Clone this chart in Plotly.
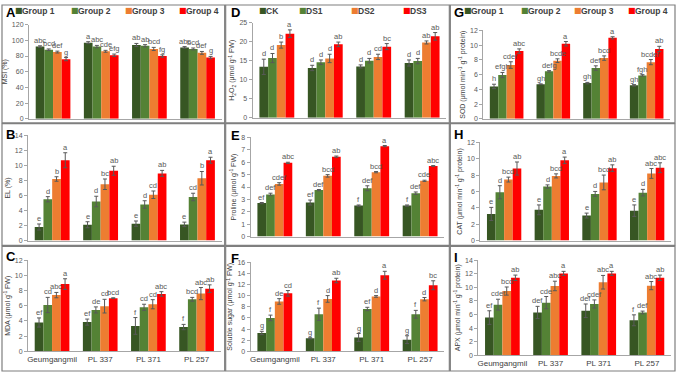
import plotly.graph_objects as go

W, H = 676, 375

cultivars = ["Geumgangmil", "PL 337", "PL 371", "PL 257"]
group_names = ["Group 1", "Group 2", "Group 3", "Group 4"]
ds_names = ["CK", "DS1", "DS2", "DS3"]
colors = ["#375623", "#548235", "#ED7D31", "#FF0000"]

# Each list: one row per series (Group 1..4), one value per cultivar
msi_mean = [[92, 97, 94, 91], [88, 92, 93, 89], [85, 86, 89, 84], [76, 81, 80, 78]]
msi_err = [[1.0, 1.2, 2.0, 1.0], [1.0, 1.5, 1.5, 1.2], [1.2, 1.2, 2.0, 1.8], [2.0, 1.5, 1.5, 1.5]]
msi_let = [["abc", "a", "ab", "abc"], ["bcd", "abc", "ab", "bcd"], ["def", "cde", "bcd", "def"], ["g", "efg", "fg", "g"]]

el_mean = [[1.8, 2.1, 2.25, 2.15], [5.5, 5.2, 4.8, 5.8], [8.2, 7.5, 6.1, 8.3], [10.7, 9.3, 8.95, 10.7]]
el_err = [[0.4, 0.4, 0.35, 0.3], [0.35, 0.7, 0.5, 0.5], [0.3, 0.7, 0.5, 0.9], [1.0, 0.6, 0.4, 0.4]]
el_let = [["e", "e", "e", "e"], ["d", "d", "d", "cd"], ["b", "bc", "cd", "b"], ["a", "ab", "ab", "a"]]

mda_mean = [[3.8, 3.85, 3.35, 3.2], [6.1, 5.45, 5.8, 6.85], [7.4, 5.95, 6.2, 7.6], [8.85, 7.0, 7.55, 8.25]]
mda_err = [[0.6, 0.4, 1.1, 0.35], [1.0, 0.4, 0.4, 0.25], [0.35, 0.9, 0.6, 0.8], [0.7, 0.05, 0.3, 0.5]]
mda_let = [["ef", "ef", "f", "f"], ["cd", "de", "cd", "bcd"], ["abc", "cd", "cd", "abc"], ["a", "bcd", "abc", "ab"]]

h2o2_mean = [[13.4, 13.1, 13.5, 14.4], [15.7, 14.6, 15.0, 14.9], [19.1, 15.6, 16.0, 19.8], [22.1, 19.3, 18.7, 21.4]]
h2o2_err = [[2.0, 0.7, 0.4, 0.8], [1.2, 0.6, 0.6, 0.7], [0.8, 1.1, 0.7, 0.4], [1.0, 0.6, 0.8, 1.0]]
h2o2_let = [["d", "d", "d", "d"], ["d", "d", "d", "d"], ["b", "d", "cd", "ab"], ["a", "ab", "bc", "ab"]]

pro_mean = [[2.7, 2.75, 2.5, 2.5], [3.4, 3.75, 3.9, 3.5], [4.25, 4.9, 5.2, 4.5], [5.95, 6.45, 7.3, 5.7]]
pro_err = [[0.05, 0.2, 0.05, 0.05], [0.1, 0.05, 0.2, 0.1], [0.1, 0.1, 0.05, 0.05], [0.05, 0.05, 0.05, 0.03]]
pro_let = [["ef", "ef", "f", "f"], ["def", "def", "def", "def"], ["cdef", "bcd", "bcd", "cde"], ["abc", "ab", "a", "abc"]]

sug_mean = [[3.3, 2.35, 2.5, 2.1], [6.0, 6.65, 7.6, 6.65], [8.95, 9.4, 9.85, 9.35], [10.4, 12.7, 13.65, 11.85]]
sug_err = [[0.3, 0.1, 0.7, 0.7], [0.5, 1.1, 0.3, 0.7], [0.5, 0.6, 0.15, 0.3], [0.5, 0.4, 0.7, 0.8]]
sug_let = [["g", "g", "g", "g"], ["f", "f", "ef", "f"], ["de", "d", "d", "d"], ["cd", "ab", "a", "bc"]]

sod_mean = [[4.4, 4.7, 4.85, 4.55], [5.95, 6.45, 6.9, 5.9], [7.3, 7.9, 8.25, 7.7], [9.2, 10.2, 11.0, 9.5]]
sod_err = [[0.3, 0.05, 0.1, 0.1], [0.35, 0.1, 0.3, 0.1], [0.45, 0.25, 0.3, 0.35], [0.3, 0.3, 0.15, 0.35]]
sod_let = [["h", "gh", "gh", "gh"], ["efgh", "defg", "def", "fgh"], ["cdef", "bcde", "bcd", "bcdef"], ["abc", "a", "a", "ab"]]

cat_mean = [[3.25, 3.75, 3.05, 3.65], [5.9, 6.6, 5.7, 5.85], [7.45, 7.9, 7.1, 8.2], [8.8, 9.8, 8.85, 8.9]]
cat_err = [[0.8, 0.6, 0.3, 0.7], [0.8, 0.2, 0.3, 0.4], [0.3, 0.25, 0.9, 0.6], [0.8, 0.4, 0.4, 0.6]]
cat_let = [["e", "e", "e", "e"], ["d", "d", "d", "d"], ["bcd", "bcd", "bcd", "abc"], ["ab", "a", "ab", "abc"]]

apx_mean = [[5.55, 6.3, 6.55, 5.15], [7.45, 7.75, 7.55, 6.3], [9.45, 10.2, 10.75, 10.25], [11.4, 12.05, 12.05, 11.4]]
apx_err = [[1.0, 0.9, 1.0, 0.8], [0.8, 0.9, 0.6, 0.2], [0.6, 0.7, 1.0, 0.6], [0.4, 0.3, 0.3, 0.4]]
apx_let = [["ef", "def", "def", "f"], ["cdef", "cde", "cdef", "def"], ["bcd", "abc", "abc", "abc"], ["ab", "a", "a", "ab"]]

# panel: letter, data, y title, y max, dtick, pixel box (x0, x1, ytop, ybottom)
panels = [
    ("A", msi_mean, msi_err, msi_let, "MSI (%)", 120, 20, (28, 221, 21, 117)),
    ("D", h2o2_mean, h2o2_err, h2o2_let, "H<sub>2</sub>O<sub>2</sub> (μmol g<sup>-1</sup> FW)", 25, 5, (252, 446, 19, 116)),
    ("G", sod_mean, sod_err, sod_let, "SOD (μmol min<sup>-1</sup> g<sup>-1</sup> protein)", 12, 2, (483, 670, 27, 117)),
    ("B", el_mean, el_err, el_let, "EL (%)", 14, 2, (27, 221, 134, 241)),
    ("E", pro_mean, pro_err, pro_let, "Proline (μmol g<sup>-1</sup> FW)", 8, 1, (250, 444, 136, 237)),
    ("H", cat_mean, cat_err, cat_let, "CAT (μmol min<sup>-1</sup> g<sup>-1</sup> protein)", 12, 2, (480, 671, 141, 241)),
    ("C", mda_mean, mda_err, mda_let, "MDA (μmol g<sup>-1</sup> FW)", 12, 2, (27, 220, 261, 354)),
    ("F", sug_mean, sug_err, sug_let, "Soluble sugar (μmol g<sup>-1</sup> FW)", 16, 2, (250, 444, 263, 354)),
    ("I", apx_mean, apx_err, apx_let, "APX (μmol min<sup>-1</sup> g<sup>-1</sup> protein)", 14, 2, (478, 671, 261, 358)),
]
letter_pos = {"A": (3, 9), "D": (228, 9), "G": (452, 9),
              "B": (3, 133), "E": (228, 134), "H": (452, 133),
              "C": (3, 257), "F": (228, 259), "I": (452, 258)}

bw = 0.18
FONT = "Arial, Liberation Sans, sans-serif"
TICKC = "#595959"

fig = go.Figure()
annotations = []
layout = dict(width=W, height=H, margin=dict(l=0, r=0, t=0, b=0),
              paper_bgcolor="white", plot_bgcolor="white", showlegend=False,
              font=dict(family=FONT, color=TICKC))

for k, (lab, mean, err, lets, ytitle, ymax, dt, box) in enumerate(panels, start=1):
    x0, x1, yt, yb = box
    xa = "x" if k == 1 else f"x{k}"
    ya = "y" if k == 1 else f"y{k}"
    names = ds_names if lab == "D" else group_names
    for j in range(4):
        xs = [i + (j - 1.5) * bw for i in range(4)]
        fig.add_trace(go.Bar(
            x=xs, y=mean[j], width=bw, name=names[j], xaxis=xa, yaxis=ya,
            marker=dict(color=colors[j], line=dict(width=0)),
            error_y=dict(type="data", array=err[j], visible=True, color="#595959", thickness=1, width=2),
        ))
        for i in range(4):
            annotations.append(dict(
                x=xs[i], y=mean[j][i] + err[j][i], xref=xa, yref=ya, text=lets[j][i],
                showarrow=False, yanchor="bottom", yshift=-1,
                font=dict(size=7.5, color="#595959", family=FONT)))
    bottom_row = lab in ("C", "F", "I")
    xkey = "xaxis" if k == 1 else f"xaxis{k}"
    ykey = "yaxis" if k == 1 else f"yaxis{k}"
    layout[xkey] = dict(
        domain=[x0 / W, x1 / W], anchor=ya, range=[-0.5, 3.5],
        tickvals=[0, 1, 2, 3], ticktext=cultivars if bottom_row else ["", "", "", ""],
        showline=True, linecolor="#a6a6a6", linewidth=1, showgrid=False, zeroline=False,
        ticks="", tickfont=dict(size=8, color="#404040", family=FONT), fixedrange=True)
    layout[ykey] = dict(
        domain=[1 - yb / H, 1 - yt / H], anchor=xa, range=[0, ymax], dtick=dt, tick0=0,
        showline=True, linecolor="#a6a6a6", linewidth=1, showgrid=False, zeroline=False,
        ticks="outside", ticklen=3, tickcolor="#a6a6a6",
        tickfont=dict(size=7, color=TICKC, family=FONT),
        title=dict(text=ytitle, font=dict(size=7, color="#404040", family=FONT), standoff=3),
        fixedrange=True)
    lx, ly = letter_pos[lab]
    annotations.append(dict(x=lx / W, y=1 - ly / H, xref="paper", yref="paper", text=f"<b>{lab}</b>",
                            showarrow=False, xanchor="left", yanchor="middle",
                            font=dict(size=13, color="black", family=FONT)))

# legends (top row): square x positions and label text
legend_x = {"A": ([13, 69, 123, 177], group_names), "D": ([257, 297, 350, 402], ds_names),
            "G": ([463, 520, 573, 627], group_names)}
for lab, (xs, names) in legend_x.items():
    for j in range(4):
        annotations.append(dict(
            x=xs[j] / W, y=1 - 7 / H, xref="paper", yref="paper",
            text="■", showarrow=False, xanchor="left", yanchor="middle", borderpad=0,
            font=dict(size=8, color=colors[j], family="DejaVu Sans")))
        annotations.append(dict(
            x=(xs[j] + 7) / W, y=1 - 7 / H, xref="paper", yref="paper",
            text=f"<b>{names[j]}</b>", showarrow=False, xanchor="left", yanchor="middle", borderpad=0,
            font=dict(size=8.5, color="#404040", family=FONT)))

layout["annotations"] = annotations

# panel borders
shapes = []
bc = "#7f7f7f"
for xa_, xb_ in [(1, 224), (225, 449), (450, 675)]:
    for ya_, yb_ in [(1, 121), (122, 246), (247, 374)]:
        shapes.append(dict(type="rect", xref="paper", yref="paper",
                           x0=xa_ / W, x1=xb_ / W, y0=1 - yb_ / H, y1=1 - ya_ / H,
                           line=dict(color=bc, width=1.2)))
layout["shapes"] = shapes

fig.update_layout(**layout)
fig.write_html("out.html", config={"displayModeBar": False},
               post_script="document.body.style.margin='0px';document.body.style.padding='0px';")
